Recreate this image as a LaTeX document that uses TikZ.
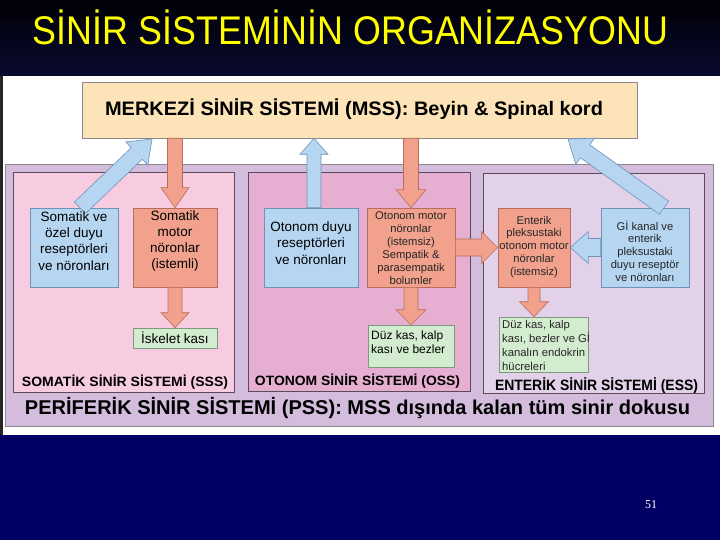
\documentclass[tikz,border=0pt]{standalone}
\usepackage{fontspec}
\setmainfont{Liberation Sans}
\newfontfamily\numfont{Liberation Serif}
\usetikzlibrary{calc}
\definecolor{topA}{HTML}{000006}
\definecolor{topB}{HTML}{0A0A30}
\definecolor{navyB}{HTML}{000064}
\definecolor{titleY}{HTML}{FFFF00}
\definecolor{mssF}{HTML}{FCE3B8}
\definecolor{pssF}{HTML}{D3BCDC}
\definecolor{sssF}{HTML}{F7CCE0}
\definecolor{ossF}{HTML}{E6AFD1}
\definecolor{essF}{HTML}{E2D1E9}
\definecolor{blueF}{HTML}{B5D5F1}
\definecolor{blueD}{HTML}{6F92B8}
\definecolor{salF}{HTML}{F1A18C}
\definecolor{salD}{HTML}{B86E5E}
\definecolor{grnF}{HTML}{D3ECCF}
\definecolor{grnD}{HTML}{7E9A7C}
\definecolor{frameD}{HTML}{8A8A8A}
\definecolor{subD}{HTML}{5A4A5A}
\newcommand\fitw[2]{\resizebox{#1}{\height}{#2}}
\newcommand\barrow[6]{%
  \coordinate (ba-s) at (#2);
  \coordinate (ba-e) at (#3);
  \coordinate (ba-b) at ($(ba-e)!#6!(ba-s)$);
  \draw[#1] ($(ba-s)!#4!90:(ba-e)$) -- ($(ba-b)!#4!90:(ba-e)$) -- ($(ba-b)!#5!90:(ba-e)$)
    -- (ba-e) -- ($(ba-b)!#5!-90:(ba-e)$) -- ($(ba-b)!#4!-90:(ba-e)$) -- ($(ba-s)!#4!-90:(ba-e)$) -- cycle;
}
\begin{document}
\begin{tikzpicture}[x=1pt,y=-1pt,
  bx/.style 2 args={minimum width=#1pt, minimum height=#2pt, inner sep=0pt, draw, line width=0.6pt},
  bluebox/.style={fill=blueF, draw=blueD},
  salbox/.style={fill=salF, draw=salD},
  grnbox/.style={fill=grnF, draw=grnD},
  barr/.style={fill=blueF, draw=blueD, line width=0.6pt, line join=miter},
  sarr/.style={fill=salF, draw=salD, line width=0.6pt, line join=miter},
  lbl/.style={anchor=base, inner sep=0pt},
  t14/.style={font=\fontsize{13.5}{16.3}\selectfont, align=center, inner sep=0pt},
  t11/.style={font=\fontsize{11.2}{12.9}\selectfont, align=center, inner sep=0pt, text=black!85},
  tl12/.style={font=\fontsize{12}{14.5}\selectfont, align=left, anchor=west, inner sep=0pt},
  tl11/.style={font=\fontsize{11.3}{14}\selectfont, align=left, anchor=west, inner sep=0pt, text=black!85}
]
\useasboundingbox (0,0) rectangle (720,540);
% background
\shade[top color=topA, bottom color=topB] (0,0) rectangle (720,76);
\fill[white] (0,76) rectangle (720,435);
\fill[navyB] (0,435) rectangle (720,540);
\fill[black!85] (0,76) rectangle (3,435);
\node[lbl, text=titleY] (title) at (350.5,45) {\fitw{635pt}{\fontsize{40}{40}\selectfont SİNİR SİSTEMİNİN ORGANİZASYONU}};
\node[text=white, font=\numfont\fontsize{12}{12}\selectfont, inner sep=0pt] (pg) at (651,505) {51};

% frames
\node[bx={555}{56}, fill=mssF, draw=frameD] (mss) at (359.5,110) {};
\node[lbl] (mss-t) at (354,116) {\fitw{498pt}{\fontsize{19.5}{19.5}\selectfont\bfseries MERKEZİ SİNİR SİSTEMİ (MSS): Beyin \& Spinal kord}};
\node[bx={708}{262}, fill=pssF, draw=frameD] (pss) at (359,295) {};
\node[bx={221}{220}, fill=sssF, draw=subD] (sss) at (123.5,282) {};
\node[bx={222}{219}, fill=ossF, draw=subD] (oss) at (359,281.5) {};
\node[bx={221}{220}, fill=essF, draw=subD] (ess) at (593.5,283) {};
\node[lbl] (pss-t) at (357.5,414) {\fitw{665pt}{\fontsize{20}{20}\selectfont\bfseries PERİFERİK SİNİR SİSTEMİ (PSS): MSS dışında kalan tüm sinir dokusu}};
\node[lbl] (sss-t) at (125,386) {\fitw{206pt}{\fontsize{13.5}{13.5}\selectfont\bfseries SOMATİK SİNİR SİSTEMİ (SSS)}};
\node[lbl] (oss-t) at (357.5,385) {\fitw{205pt}{\fontsize{13.5}{13.5}\selectfont\bfseries OTONOM SİNİR SİSTEMİ (OSS)}};
\node[lbl] (ess-t) at (596.5,390) {\fitw{203pt}{\fontsize{15}{15}\selectfont\bfseries ENTERİK SİNİR SİSTEMİ (ESS)}};

% inner boxes
\node[bx={88}{79}, bluebox] (ss) at (74,247.5) {};
\node[bx={84}{79}, salbox] (sm) at (175,247.5) {};
\node[bx={84}{20}, grnbox] (isk) at (175,338) {};
\node[bx={94}{79}, bluebox] (od) at (311,247.5) {};
\node[bx={88}{79}, salbox] (om) at (411,247.5) {};
\node[bx={86}{42}, grnbox] (dk) at (411,346) {};
\node[bx={72}{79}, salbox] (em) at (534,247.5) {};
\node[bx={88}{79}, bluebox] (gi) at (645,247.5) {};
\node[bx={89}{55}, grnbox] (ed) at (543.5,344.5) {};

% arrows
\coordinate (t1) at (152,139);
\coordinate (t2) at (568,139);
\coordinate (u1) at ([xshift=3pt]od.north);
\coordinate (u2) at ([xshift=19pt]gi.north);
\coordinate (u0) at ([xshift=6pt]ss.north);
\barrow{barr}{u0}{t1}{8pt}{16pt}{21pt}
\barrow{sarr}{sm.north |- mss.south}{sm.north}{7.5pt}{14pt}{20pt}
\barrow{sarr}{sm.south}{isk.north}{7pt}{14pt}{15pt}
\barrow{barr}{u1}{u1 |- mss.south}{7pt}{14pt}{16pt}
\barrow{sarr}{om.north |- mss.south}{om.north}{7.5pt}{15pt}{18pt}
\barrow{sarr}{om.south}{dk.north}{7pt}{15pt}{15pt}
\barrow{sarr}{om.east}{em.west}{8.5pt}{16pt}{16pt}
\barrow{barr}{gi.west}{em.east}{9pt}{16pt}{18pt}
\barrow{barr}{u2}{t2}{8pt}{16pt}{21pt}
\barrow{sarr}{em.south}{em.south |- ed.north}{6pt}{14.5pt}{15pt}

% texts
\node[t14] (ss-t) at (74,241) {Somatik ve\\özel duyu\\reseptörleri\\ve nöronları};
\node[t14] (sm-t) at (175,241) {Somatik\\motor\\nöronlar\\(istemli)};
\node[t14] (isk-t) at (175,338) {İskelet kası};
\node[t14] (od-t) at (311,243) {Otonom duyu\\reseptörleri\\ve nöronları};
\node[t11] (om-t) at (411,248) {Otonom motor\\nöronlar\\(istemsiz)\\Sempatik \&\\parasempatik\\bolumler};
\node[tl12] (dk-t) at (371,342) {Düz kas, kalp\\kası ve bezler};
\node[t11] (em-t) at (534,247) {Enterik\\pleksustaki\\otonom motor\\nöronlar\\(istemsiz)};
\node[t11] (gi-t) at (645,251) {Gİ kanal ve\\enterik\\pleksustaki\\duyu reseptör\\ve nöronları};
\node[tl11] (ed-t) at (502,345) {Düz kas, kalp\\kası, bezler ve Gİ\\kanalın endokrin\\hücreleri};
\end{tikzpicture}
\end{document}
